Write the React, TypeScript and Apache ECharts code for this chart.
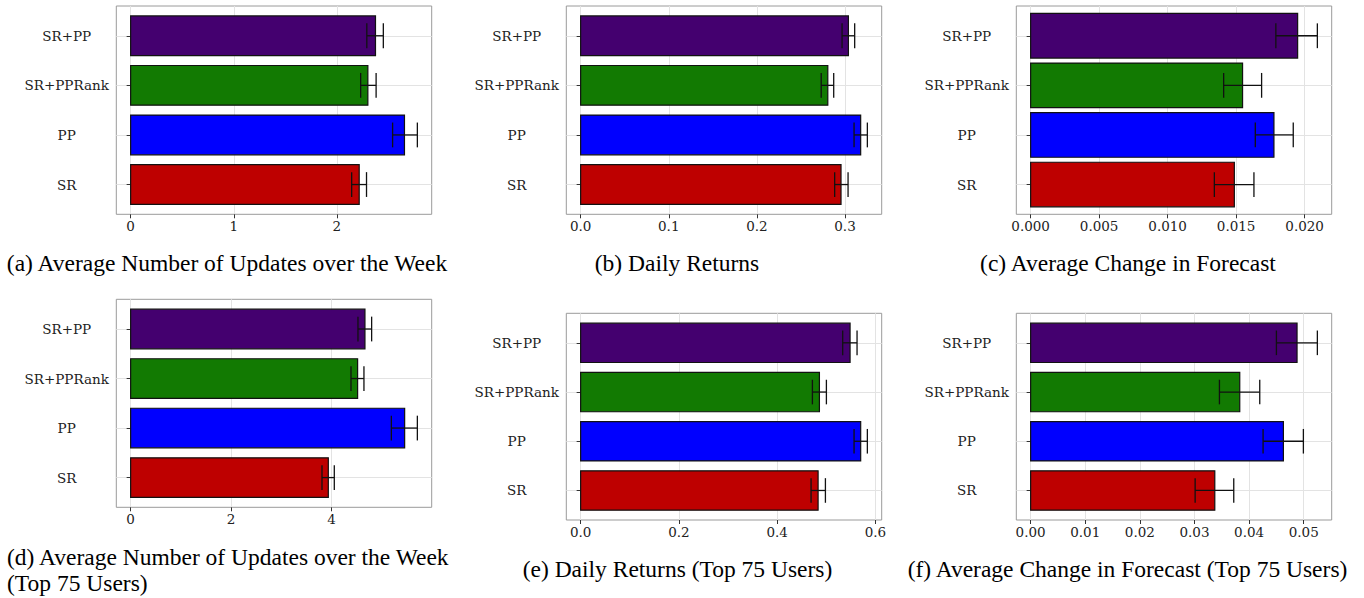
import React, { useEffect, useRef } from "react";
import * as echarts from "echarts";

const categories = ["SR", "PP", "SR+PPRank", "SR+PP"];

const updatesMean = [2.216, 2.655, 2.3, 2.374];
const updatesLo = [2.143, 2.54, 2.23, 2.29];
const updatesHi = [2.287, 2.78, 2.38, 2.45];

const returnsMean = [0.2955, 0.3178, 0.2805, 0.3039];
const returnsLo = [0.2883, 0.3103, 0.273, 0.2967];
const returnsHi = [0.3035, 0.3254, 0.2872, 0.311];

const changeMean = [0.01487, 0.01776, 0.01547, 0.01949];
const changeLo = [0.01341, 0.0164, 0.01409, 0.0179];
const changeHi = [0.0163, 0.01917, 0.01686, 0.02093];

const updatesTopMean = [3.934, 5.453, 4.517, 4.663];
const updatesTopLo = [3.808, 5.188, 4.385, 4.524];
const updatesTopHi = [4.053, 5.706, 4.643, 4.796];

const returnsTopMean = [0.4834, 0.5701, 0.4861, 0.5485];
const returnsTopLo = [0.4691, 0.5566, 0.4718, 0.5335];
const returnsTopHi = [0.4983, 0.5837, 0.5003, 0.5627];

const changeTopMean = [0.03372, 0.04628, 0.03829, 0.04878];
const changeTopLo = [0.03012, 0.04256, 0.03457, 0.045];
const changeTopHi = [0.03719, 0.04994, 0.04195, 0.0525];

const ticksA = [0, 1, 2];
const ticksB = [0, 0.1, 0.2, 0.3];
const ticksC = [0, 0.005, 0.01, 0.015, 0.02];
const ticksD = [0, 2, 4];
const ticksE = [0, 0.2, 0.4, 0.6];
const ticksF = [0, 0.01, 0.02, 0.03, 0.04, 0.05];

const captionA = "(a) Average Number of Updates over the Week";
const captionB = "(b) Daily Returns";
const captionC = "(c) Average Change in Forecast";
const captionD1 = "(d) Average Number of Updates over the Week";
const captionD2 = "(Top 75 Users)";
const captionE = "(e) Daily Returns (Top 75 Users)";
const captionF = "(f) Average Change in Forecast (Top 75 Users)";

const barColors = ["#BE0000", "#0000FF", "#127A02", "#44006F"];

const panels = [
  { mean: updatesMean, lo: updatesLo, hi: updatesHi, ticks: ticksA, dec: 0, grid: { left: 116.3, top: 6, width: 315.4, height: 208.3 }, bw: 0.8 },
  { mean: returnsMean, lo: returnsLo, hi: returnsHi, ticks: ticksB, dec: 1, grid: { left: 566.3, top: 6, width: 315.4, height: 208.3 }, bw: 0.8 },
  { mean: changeMean, lo: changeLo, hi: changeHi, ticks: ticksC, dec: 3, grid: { left: 1016.3, top: 6, width: 315.4, height: 208.3 }, bw: 0.9 },
  { mean: updatesTopMean, lo: updatesTopLo, hi: updatesTopHi, ticks: ticksD, dec: 0, grid: { left: 116.3, top: 299.3, width: 315.4, height: 208 }, bw: 0.8 },
  { mean: returnsTopMean, lo: returnsTopLo, hi: returnsTopHi, ticks: ticksE, dec: 1, grid: { left: 566.3, top: 313.3, width: 315.4, height: 206.7 }, bw: 0.8 },
  { mean: changeTopMean, lo: changeTopLo, hi: changeTopHi, ticks: ticksF, dec: 2, grid: { left: 1016.3, top: 313.3, width: 315.4, height: 206.7 }, bw: 0.8 },
];

const axisFont = "DejaVu Serif";
const captionFont = "Liberation Serif";

export default function App() {
  const ref = useRef<HTMLDivElement>(null);
  useEffect(() => {
    if (!ref.current) return;
    const chart = echarts.init(ref.current, null, { renderer: "svg" });

    const grids: any[] = [];
    const xAxes: any[] = [];
    const yAxes: any[] = [];
    const series: any[] = [];

    panels.forEach((p, i) => {
      grids.push({
        ...p.grid,
        show: true,
        borderColor: "#9A9A9A",
        borderWidth: 1,
        backgroundColor: "#fff",
        containLabel: false,
      });
      const maxHi = Math.max(...p.hi);
      xAxes.push({
        type: "value",
        gridIndex: i,
        min: -0.05 * maxHi,
        max: 1.05 * maxHi,
        axisLine: { show: false },
        axisTick: {
          show: true,
          customValues: p.ticks,
          length: 4,
          lineStyle: { color: "#333", width: 1 },
        },
        axisLabel: {
          customValues: p.ticks,
          formatter: (v: number) => v.toFixed(p.dec),
          fontFamily: axisFont,
          fontSize: 13.5,
          color: "#222",
          margin: 5,
        },
        splitLine: { show: true, lineStyle: { color: "#E3E3E3", width: 1 } },
      });
      yAxes.push({
        type: "value",
        gridIndex: i,
        min: 0.4,
        max: 4.6,
        axisLine: { show: false },
        axisTick: {
          show: true,
          customValues: [1, 2, 3, 4],
          length: 4,
          lineStyle: { color: "#333", width: 1 },
        },
        axisLabel: {
          customValues: [1, 2, 3, 4],
          formatter: (v: number) => categories[Math.round(v) - 1] ?? "",
          fontFamily: axisFont,
          fontSize: 13.5,
          color: "#222",
          align: "center",
          margin: 49.6,
        },
        splitLine: { show: true, lineStyle: { color: "#E3E3E3", width: 1 } },
      });
      const data = categories.map((c, k) => [k + 1, p.mean[k], p.lo[k], p.hi[k]]);
      series.push({
        type: "custom",
        xAxisIndex: i,
        yAxisIndex: i,
        encode: { x: [1, 2, 3], y: 0 },
        data,
        renderItem: (params: any, api: any) => {
          const y = api.value(0);
          const m = api.value(1);
          const lo = api.value(2);
          const hi = api.value(3);
          const half = p.bw / 2;
          const p0 = api.coord([0, y + half]);
          const p1 = api.coord([m, y - half]);
          const eLo = api.coord([lo, y]);
          const eHi = api.coord([hi, y]);
          const capTop = api.coord([lo, y + 0.25]);
          const capBot = api.coord([lo, y - 0.25]);
          return {
            type: "group",
            children: [
              {
                type: "rect",
                shape: { x: p0[0], y: p0[1], width: p1[0] - p0[0], height: p1[1] - p0[1] },
                style: { fill: barColors[params.dataIndex], stroke: "#111", lineWidth: 1.2 },
              },
              {
                type: "line",
                shape: { x1: eLo[0], y1: eLo[1], x2: eHi[0], y2: eHi[1] },
                style: { stroke: "#111", lineWidth: 1.3 },
              },
              {
                type: "line",
                shape: { x1: eLo[0], y1: capTop[1], x2: eLo[0], y2: capBot[1] },
                style: { stroke: "#111", lineWidth: 1.3 },
              },
              {
                type: "line",
                shape: { x1: eHi[0], y1: capTop[1], x2: eHi[0], y2: capBot[1] },
                style: { stroke: "#111", lineWidth: 1.3 },
              },
            ],
          };
        },
      });
    });

    const cap = (text: string, x: number, y: number, align: string = "center") => ({
      type: "text",
      x,
      y,
      style: {
        text,
        fill: "#000",
        fontFamily: captionFont,
        fontSize: 23.5,
        align,
        verticalAlign: "middle",
      },
    });

    chart.setOption({
      animation: false,
      grid: grids,
      xAxis: xAxes,
      yAxis: yAxes,
      series,
      graphic: [
        cap(captionA, 227, 263),
        cap(captionB, 677, 263),
        cap(captionC, 1128, 263),
        cap(captionD1, 7, 556.7, "left"),
        cap(captionD2, 7, 583.3, "left"),
        cap(captionE, 677.5, 569.3),
        cap(captionF, 1127.5, 569.3),
      ],
    });
    return () => chart.dispose();
  }, []);
  return (
    <div
      ref={ref}
      style={{ position: "fixed", left: 0, top: 0, width: 1364, height: 598, background: "#fff" }}
    />
  );
}
